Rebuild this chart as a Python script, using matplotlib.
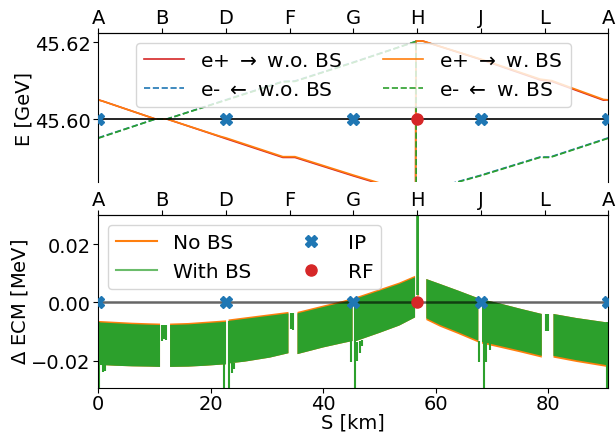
import numpy as np
import matplotlib
matplotlib.use("Agg")
import matplotlib.pyplot as plt
from matplotlib.lines import Line2D

plt.rcParams['font.size'] = 14
plt.rcParams['xtick.major.pad'] = 1.0
plt.rcParams['ytick.major.pad'] = 2.0

nan = np.nan

# ring layout
ring = 90.66
letters = ['A', 'B', 'D', 'F', 'G', 'H', 'J', 'L', 'A']
letter_s = [0.0, 11.33, 22.66, 34.0, 45.33, 56.66, 67.99, 79.33, 90.66]
ip_s = [0.0, 22.66, 45.33, 67.99, 90.66]
rf_s = [56.66]
E_nom = 45.60

# top panel: beam energy along the ring [GeV]
pos_s = [0.0, 0.9, 10.15, 12.2, 21.65, 22.66, 32.8, 34.95, 45.33, 56.4,
         56.45, 57.7, 67.99, 78.5, 80.6, 89.8, 90.66]
pos_E_nobs = [45.6050, 45.6046, 45.6000, 45.6000, 45.5954, 45.5949, 45.5900,
              45.5900, 45.5852, 45.5803, 45.6203, 45.6203, 45.6155, 45.6102,
              45.6098, 45.6049, 45.6050]
pos_E_bs = [45.6050, 45.6046, 45.6000, 45.6000, 45.5955, 45.5951, 45.5902,
            45.5902, 45.5854, 45.5805, 45.6203, 45.6203, 45.6156, 45.6104,
            45.6100, 45.6051, 45.6050]

ele_s = [0.0, 0.8, 10.15, 12.2, 22.66, 32.8, 34.95, 45.33, 56.45, 56.5,
         63.7, 67.86, 78.5, 80.3, 90.66]
ele_E_nobs = [45.5951, 45.5955, 45.6000, 45.6000, 45.6050, 45.6098, 45.6099,
              45.6148, 45.6202, 45.5804, 45.5836, 45.5853, 45.5901, 45.5901,
              45.5951]
ele_E_bs = [45.5950, 45.5954, 45.6000, 45.6000, 45.6049, 45.6097, 45.6098,
            45.6147, 45.6202, 45.5803, 45.5835, 45.5852, 45.5900, 45.5900,
            45.5950]

# bottom panel: envelopes of delta ECM [MeV], segments split by nan
band_s = [0.1, 3, 6, 9, 10.97, nan,
          12.75, 16, 19, 22.7, nan,
          23.15, 26, 30.5, 33.8, nan,
          35.4, 40, 43.5, 45.2, nan,
          45.55, 50, 53.5, 56.3, nan,
          58.3, 60.75, 64, 67.55, nan,
          68.2, 71.4, 75, 78.83, nan,
          80.9, 85, 90.38]
bs_up = [-0.0069, -0.0072, -0.0075, -0.0077, -0.0078, nan,
         -0.0078, -0.0076, -0.0072, -0.0067, nan,
         -0.0064, -0.0057, -0.0046, -0.0038, nan,
         -0.0038, -0.0016, 0.0000, 0.0010, nan,
         0.0011, 0.0040, 0.0063, 0.0086, nan,
         0.0080, 0.0063, 0.0040, 0.0014, nan,
         0.0010, -0.0004, -0.0022, -0.0040, nan,
         -0.0040, -0.0054, -0.0069]
bs_lo = [-0.0215, -0.0218, -0.0220, -0.0221, -0.0222, nan,
         -0.0222, -0.0221, -0.0218, -0.0213, nan,
         -0.0210, -0.0204, -0.0190, -0.0175, nan,
         -0.0178, -0.0155, -0.0140, -0.0133, nan,
         -0.0135, -0.0105, -0.0080, -0.0052, nan,
         -0.0055, -0.0078, -0.0103, -0.0132, nan,
         -0.0136, -0.0150, -0.0166, -0.0184, nan,
         -0.0184, -0.0199, -0.0216]
nobs_up = [-0.0064, -0.0067, -0.0070, -0.0072, -0.0073, nan,
           -0.0073, -0.0071, -0.0067, -0.0062, nan,
           -0.0059, -0.0052, -0.0041, -0.0033, nan,
           -0.0033, -0.0011, 0.0005, 0.0015, nan,
           0.0016, 0.0045, 0.0068, 0.0091, nan,
           0.0080, 0.0063, 0.0040, 0.0014, nan,
           0.0010, -0.0004, -0.0022, -0.0040, nan,
           -0.0040, -0.0054, -0.0069]
nobs_lo = [-0.0215, -0.0218, -0.0220, -0.0221, -0.0222, nan,
           -0.0222, -0.0221, -0.0218, -0.0213, nan,
           -0.0210, -0.0204, -0.0190, -0.0175, nan,
           -0.0178, -0.0155, -0.0140, -0.0133, nan,
           -0.0135, -0.0105, -0.0080, -0.0052, nan,
           -0.0061, -0.0084, -0.0109, -0.0138, nan,
           -0.0142, -0.0156, -0.0172, -0.0190, nan,
           -0.0190, -0.0205, -0.0222]

# narrow spikes of the BS curve (around IPs and straight sections)
spike_s = [0.1, 0.84, 1.19, 11.27, 11.68, 11.98, 22.3, 23.3, 23.72, 24.18,
           34.2, 34.6, 44.9, 45.7, 46.0, 46.5, 46.93, 67.7, 68.55, 68.9,
           69.6, 79.6, 80.0, 90.5]
spike_top = [-0.0069, -0.0215, -0.0215, -0.0078, -0.0078, -0.0078, -0.0067,
             -0.0064, -0.0210, -0.0208, -0.0038, -0.0038, -0.0133, 0.0011,
             -0.0135, -0.0132, -0.0130, -0.0132, 0.0010, -0.0136, -0.0140,
             -0.0040, -0.0040, -0.0069]
spike_bot = [-0.0293, -0.0240, -0.0237, -0.0132, -0.0125, -0.0130, -0.0293,
             -0.0293, -0.0244, -0.0230, -0.0092, -0.0095, -0.0206, -0.0293,
             -0.0200, -0.0175, -0.0150, -0.0206, -0.0293, -0.0206, -0.0165,
             -0.0098, -0.0098, -0.0293]
rf_spike_s = [56.6, 56.75, 56.9]
rf_spike_bot = [0.0025, 0.0025, 0.0025]
rf_spike_top = [0.0300, 0.0300, 0.0300]
rf_nobs_s = [56.75]
rf_nobs_top = [0.0088]
rf_nobs_bot = [0.0020]

c_red, c_blue, c_orange, c_green = '#d62728', '#1f77b4', '#ff7f0e', '#2ca02c'

fig = plt.figure(figsize=(6.16, 4.35), dpi=100)
ax1 = fig.add_axes([0.1596, 0.5793, 0.828, 0.3425])
ax2 = fig.add_axes([0.1596, 0.1067, 0.828, 0.3968])

# ---- top panel
ax1.plot(pos_s, pos_E_nobs, color=c_red, lw=1.2, label=r'e+ $\rightarrow$ w.o. BS')
ax1.plot(ele_s, ele_E_nobs, color=c_blue, lw=1.2, ls='--', label=r'e- $\leftarrow$ w.o. BS')
ax1.plot(pos_s, pos_E_bs, color=c_orange, lw=1.2, label=r'e+ $\rightarrow$ w. BS')
ax1.plot(ele_s, ele_E_bs, color=c_green, lw=1.2, ls='--', label=r'e- $\leftarrow$ w. BS')
ax1.axhline(E_nom, color='k', lw=1.2)
ax1.plot(ip_s, [E_nom] * len(ip_s), 'X', color=c_blue, ms=8, zorder=4)
ax1.plot(rf_s, [E_nom] * len(rf_s), 'o', color=c_red, ms=8, zorder=4)
ax1.set_xlim(0, ring)
ax1.set_ylim(45.5836, 45.6224)
ax1.set_yticks([45.60, 45.62])
ax1.set_yticklabels(['45.60', '45.62'])
ax1.set_ylabel('E [GeV]', labelpad=1)
ax1.spines['bottom'].set_visible(False)
ax1.tick_params(axis='x', bottom=False, labelbottom=False)
ax1.legend(loc='upper center', ncol=2, fontsize=14.5, handlelength=2.0)
top1 = ax1.secondary_xaxis('top')
top1.set_xticks(letter_s, labels=letters)

# ---- bottom panel
ax2.fill_between(band_s, nobs_lo, nobs_up, color=c_orange, lw=0, zorder=1)
ax2.fill_between(band_s, bs_lo, bs_up, color=c_green, lw=0, zorder=2)
ax2.vlines(spike_s, spike_bot, spike_top, color=c_green, lw=1.5, zorder=2)
ax2.vlines(rf_nobs_s, rf_nobs_bot, rf_nobs_top, color=c_orange, lw=1.5, alpha=0.7, zorder=2)
ax2.vlines(rf_spike_s, rf_spike_bot, rf_spike_top, color=c_green, lw=1.2, zorder=2)
ax2.axhline(0, color='k', lw=1.8, alpha=0.6, zorder=3)
ax2.plot(ip_s, [0] * len(ip_s), 'X', color=c_blue, ms=8, zorder=4)
ax2.plot(rf_s, [0] * len(rf_s), 'o', color=c_red, ms=8, zorder=4)
ax2.set_xlim(0, ring)
ax2.set_ylim(-0.0293, 0.0300)
ax2.set_yticks([-0.02, 0.0, 0.02])
ax2.set_ylabel(r'$\Delta$ ECM [MeV]', labelpad=1)
ax2.set_xlabel('S [km]', labelpad=0)
top2 = ax2.secondary_xaxis('top')
top2.set_xticks(letter_s, labels=letters)

handles = [Line2D([], [], color=c_orange, lw=1.5),
           Line2D([], [], color=c_green, lw=1.5, alpha=0.7),
           Line2D([], [], color=c_blue, marker='X', ls='', ms=8),
           Line2D([], [], color=c_red, marker='o', ls='', ms=8)]
ax2.legend(handles, ['No BS', 'With BS', 'IP', 'RF'], loc='upper left', ncol=2, fontsize=14.5)

fig.align_ylabels([ax1, ax2])
fig.savefig('out.png', dpi=100)
